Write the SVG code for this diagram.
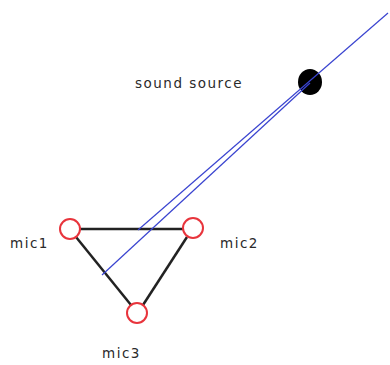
<svg xmlns="http://www.w3.org/2000/svg" width="390" height="365" viewBox="0 0 390 365">
<style>
.lbl{font-family:"DejaVu Sans","Liberation Sans",sans-serif;font-size:13.5px;fill:#2a2a2a;letter-spacing:1.5px}
.edge{stroke:#222;stroke-width:2.5;fill:none}
.ray{stroke:#3a44d0;stroke-width:1.2;fill:none}
.mic{fill:#fff;stroke:#e8343c;stroke-width:2}
</style>
<rect width="390" height="365" fill="#fff"/>
<g id="source">
<ellipse cx="310" cy="82" rx="12" ry="13" fill="#000"/>
<text class="lbl" x="135" y="88">sound source</text>
</g>
<g id="connectors">
<line class="edge" x1="80" y1="229" x2="183" y2="229" stroke="#444"/>
<line class="edge" x1="76" y1="237" x2="131" y2="305"/>
<line class="edge" x1="187" y1="237" x2="143" y2="305"/>
<line class="ray" x1="138" y1="230" x2="388" y2="13"/>
<line class="ray" x1="102" y1="275" x2="310" y2="83"/>
</g>
<g id="mic1">
<circle class="mic" cx="70" cy="229" r="10"/>
<text class="lbl" x="10" y="248">mic1</text>
</g>
<g id="mic2">
<circle class="mic" cx="193" cy="228" r="10"/>
<text class="lbl" x="220" y="248">mic2</text>
</g>
<g id="mic3">
<circle class="mic" cx="137" cy="313" r="10"/>
<text class="lbl" x="102" y="358">mic3</text>
</g>
</svg>
